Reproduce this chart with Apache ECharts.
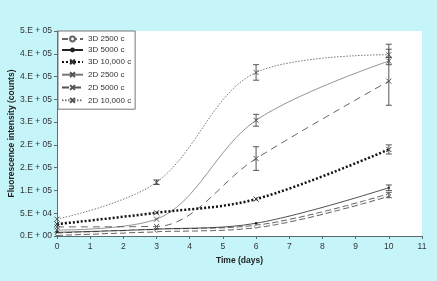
<!DOCTYPE html>
<html>
<head>
<meta charset="utf-8">
<script src="https://cdn.jsdelivr.net/npm/echarts@6/dist/echarts.min.js"></script>
<style>
  html, body { margin: 0; padding: 0; background: #c6f5f9; }
  #chart { width: 437px; height: 281px; }
</style>
</head>
<body>
<div id="chart"></div>
<script>
var days = [0, 3, 6, 10]
var d3_2500 = [4000, 12000, 21000, 90000]
var d3_5000 = [8000, 15000, 28000, 106000]
var d3_10000 = [26000, 51000, 81000, 190000]
var d2_2500 = [13000, 37000, 254000, 384000]
var d2_5000 = [20000, 21000, 170000, 340000]
var d2_10000 = [37000, 118000, 359000, 398000]
// [day, low, high]
var errBars = [
  [3, 113000, 123000], [6, 342000, 376000], [10, 392000, 410000],
  [6, 241000, 267000], [10, 376000, 392000],
  [6, 144000, 196000], [10, 287000, 421000],
  [10, 180000, 200000], [10, 100000, 112000], [10, 84000, 96000]
]
var yLabels = ['0.E + 00', '5.E + 04', '1.E + 05', '2.E + 05', '2.E + 05',
  '3.E + 05', '3.E + 05', '4.E + 05', '4.E + 05', '5.E + 05']

function pts (vals) {
  return days.map(function (d, i) { return [d, vals[i]] })
}
var xMark = 'path://M0,0L10,10M10,0L0,10'
var font = 'Liberation Sans, Arial, sans-serif'
var sm = 0.35

var chart = echarts.init(document.getElementById('chart'))
chart.setOption({
  animation: false,
  backgroundColor: '#c6f5f9',
  grid: {
    left: 57, right: 15, top: 31, bottom: 45,
    outerBoundsMode: 'none', containLabel: false,
    show: true, backgroundColor: '#fff', borderWidth: 0
  },
  legend: {
    orient: 'vertical',
    left: 58,
    top: 31,
    backgroundColor: '#fff',
    borderColor: '#777',
    borderWidth: 1,
    borderRadius: 0,
    padding: [4, 4, 4, 3],
    itemGap: 3,
    itemWidth: 21,
    itemHeight: 6,
    textStyle: { fontSize: 8, color: '#333', fontFamily: font },
    data: ['3D 2500 c', '3D 5000 c', '3D 10,000 c', '2D 2500 c', '2D 5000 c', '2D 10,000 c']
  },
  xAxis: {
    type: 'value',
    min: 0,
    max: 11,
    interval: 1,
    name: 'Time (days)',
    nameLocation: 'middle',
    nameGap: 20,
    nameMoveOverlap: false,
    nameTextStyle: { fontSize: 8.5, fontWeight: 'bold', color: '#222', fontFamily: font },
    axisLine: { lineStyle: { color: '#5d6b70' } },
    axisTick: { length: 3, lineStyle: { color: '#5d6b70' } },
    axisLabel: { fontSize: 8.5, color: '#333', margin: 6, fontFamily: font },
    splitLine: { show: false }
  },
  yAxis: {
    type: 'value',
    min: 0,
    max: 450000,
    interval: 50000,
    name: 'Fluorescence intensity (counts)',
    nameLocation: 'middle',
    nameGap: 41,
    nameMoveOverlap: false,
    nameTextStyle: { fontSize: 8.5, fontWeight: 'bold', color: '#222', fontFamily: font },
    axisLine: { show: true, lineStyle: { color: '#5d6b70' } },
    axisTick: { show: true, length: 3, lineStyle: { color: '#5d6b70' } },
    axisLabel: {
      fontSize: 8.5, color: '#333', margin: 5, fontFamily: font,
      formatter: function (v) { return yLabels[Math.round(v / 50000)] }
    },
    splitLine: { show: false }
  },
  series: [
    {
      name: '3D 2500 c', type: 'line', smooth: sm, data: pts(d3_2500),
      symbol: 'circle', symbolSize: 3,
      lineStyle: { color: '#666', width: 3.5, type: [6, 3] },
      itemStyle: { color: '#fff', borderColor: '#666', borderWidth: 1 }, z: 3
    },
    {
      name: '3D 2500 inner', type: 'line', smooth: sm, data: pts(d3_2500),
      symbol: 'none', lineStyle: { color: '#fff', width: 1.5, type: [6, 3] }, z: 4, silent: true
    },
    {
      name: '3D 5000 c', type: 'line', smooth: sm, data: pts(d3_5000),
      symbol: 'circle', symbolSize: 2.5,
      lineStyle: { color: '#222', width: 0.8 },
      itemStyle: { color: '#222' }, z: 3
    },
    {
      name: '3D 10,000 c', type: 'line', smooth: sm, data: pts(d3_10000),
      symbol: xMark, symbolSize: 5,
      lineStyle: { color: '#111', width: 2.5, type: [2, 2] },
      itemStyle: { color: 'none', borderColor: '#333', borderWidth: 1 }, z: 3
    },
    {
      name: '2D 2500 c', type: 'line', smooth: sm, data: pts(d2_2500),
      symbol: xMark, symbolSize: 5,
      lineStyle: { color: '#777', width: 0.8 },
      itemStyle: { color: 'none', borderColor: '#555', borderWidth: 1 }, z: 2
    },
    {
      name: '2D 5000 c', type: 'line', smooth: sm, data: pts(d2_5000),
      symbol: xMark, symbolSize: 5,
      lineStyle: { color: '#555', width: 0.9, type: [7, 5] },
      itemStyle: { color: 'none', borderColor: '#555', borderWidth: 1 }, z: 2
    },
    {
      name: '2D 10,000 c', type: 'line', smooth: sm, data: pts(d2_10000),
      symbol: xMark, symbolSize: 5,
      lineStyle: { color: '#777', width: 1, type: [1.5, 1.5] },
      itemStyle: { color: 'none', borderColor: '#555', borderWidth: 1 }, z: 2
    },
    {
      name: 'err', type: 'custom', data: errBars, silent: true, z: 5,
      encode: { x: 0, y: [1, 2] },
      renderItem: function (params, api) {
        var lo = api.coord([api.value(0), api.value(1)])
        var hi = api.coord([api.value(0), api.value(2)])
        var w = 3
        var st = { stroke: '#555', lineWidth: 1 }
        return {
          type: 'group',
          children: [
            { type: 'line', shape: { x1: lo[0], y1: lo[1], x2: hi[0], y2: hi[1] }, style: st },
            { type: 'line', shape: { x1: lo[0] - w, y1: lo[1], x2: lo[0] + w, y2: lo[1] }, style: st },
            { type: 'line', shape: { x1: hi[0] - w, y1: hi[1], x2: hi[0] + w, y2: hi[1] }, style: st }
          ]
        }
      }
    }
  ]
})
</script>
</body>
</html>
